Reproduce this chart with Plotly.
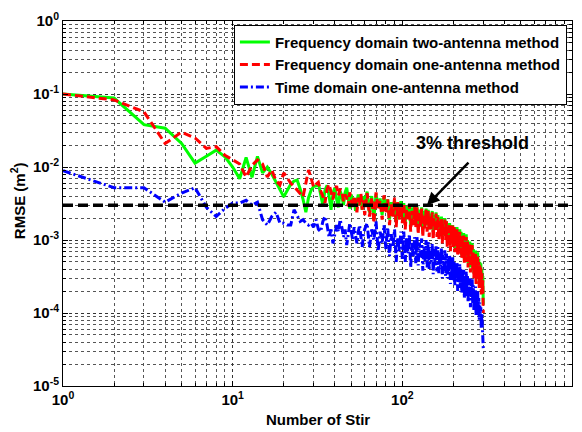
import plotly.graph_objects as go

# Number of stirs: every stir up to 60, then every second stir up to 300
stir = list(range(1, 61)) + list(range(62, 301, 2))

# RMSE (m^2) - frequency domain, two-antenna method
rmse_freq_two = [
    0.100, 0.088, 0.038, 0.034, 0.021, 0.0113, 0.0140, 0.0170, 0.0138, 0.0100,
    0.0069, 0.0135, 0.0072, 0.0140, 0.0083, 0.0100, 0.0080, 0.0062, 0.0048, 0.0039,
    0.0048, 0.0058, 0.0064, 0.0066, 0.0050, 0.0036, 0.0024, 0.0038, 0.0048, 0.0054,
    0.0055, 0.0060, 0.0042, 0.0030, 0.0048, 0.0056, 0.0040, 0.0026, 0.0044, 0.0052,
    0.0036, 0.0028, 0.0047, 0.0040, 0.0030, 0.0045, 0.0052, 0.0038, 0.0027, 0.0042,
    0.0033, 0.0038, 0.0025, 0.0034, 0.0042, 0.0030, 0.0037, 0.0026, 0.0040, 0.0032,
    0.0046, 0.0024, 0.0040, 0.0020, 0.0043, 0.0028, 0.0037, 0.0022, 0.0039, 0.0026,
    0.0036, 0.0019, 0.0033, 0.0023, 0.0035, 0.0018, 0.0031, 0.0021, 0.0034, 0.0020,
    0.0032, 0.0017, 0.0029, 0.0020, 0.0031, 0.0016, 0.0028, 0.0019, 0.0030, 0.0018,
    0.0029, 0.0015, 0.0026, 0.0018, 0.0028, 0.0014, 0.0025, 0.0017, 0.0027, 0.0016,
    0.0026, 0.0014, 0.0023, 0.0016, 0.0025, 0.0013, 0.0022, 0.0015, 0.0024, 0.0014,
    0.0022, 0.0012, 0.0020, 0.0014, 0.0021, 0.0011, 0.0019, 0.0013, 0.0020, 0.0012,
    0.0018, 0.0010, 0.0016, 0.0011, 0.0017, 0.0009, 0.0015, 0.0010, 0.0016, 0.0009,
    0.0015, 0.00078, 0.0014, 0.0009, 0.0015, 0.0007, 0.0013, 0.00085, 0.0014, 0.00075,
    0.0013, 0.00062, 0.00115, 0.00072, 0.00125, 0.00055, 0.00105, 0.00068, 0.0012, 0.0006,
    0.0010, 0.00048, 0.00088, 0.00056, 0.00095, 0.00042, 0.00082, 0.0005, 0.0009, 0.00045,
    0.00075, 0.00035, 0.00066, 0.00042, 0.00072, 0.0003, 0.0006, 0.00038, 0.00068, 0.00033,
    0.00055, 0.00026, 0.0005, 0.0003, 0.00048, 0.00022, 0.0004, 0.00024, 0.00032, 0.00013,
]

# RMSE (m^2) - frequency domain, one-antenna method
rmse_freq_one = [
    0.100, 0.083, 0.057, 0.021, 0.030, 0.025, 0.018, 0.019, 0.0145, 0.0125,
    0.0110, 0.0073, 0.0105, 0.0125, 0.0110, 0.0073, 0.0091, 0.0065, 0.0057, 0.0083,
    0.0070, 0.0060, 0.0054, 0.0048, 0.0043, 0.0039, 0.0060, 0.0091, 0.0070, 0.0053,
    0.0058, 0.0062, 0.0047, 0.0040, 0.0032, 0.0050, 0.0058, 0.0044, 0.0036, 0.0048,
    0.0055, 0.0041, 0.0050, 0.0046, 0.0034, 0.0042, 0.0038, 0.0029, 0.0045, 0.0036,
    0.0027, 0.0040, 0.0033, 0.0024, 0.0038, 0.0030, 0.0043, 0.0026, 0.0035, 0.0022,
    0.0044, 0.0021, 0.0038, 0.0017, 0.0045, 0.0026, 0.0035, 0.0019, 0.0041, 0.0023,
    0.0036, 0.0016, 0.0031, 0.0021, 0.0038, 0.0015, 0.0033, 0.0019, 0.0029, 0.0017,
    0.0032, 0.0014, 0.0027, 0.0018, 0.0031, 0.0013, 0.0025, 0.0016, 0.0030, 0.0015,
    0.0028, 0.0012, 0.0024, 0.0015, 0.0027, 0.0011, 0.0022, 0.0014, 0.0026, 0.0013,
    0.0025, 0.0011, 0.0021, 0.0014, 0.0024, 0.0010, 0.0020, 0.0013, 0.0023, 0.0011,
    0.0021, 0.0010, 0.0018, 0.0012, 0.0020, 0.0009, 0.0017, 0.0011, 0.0019, 0.0010,
    0.0018, 0.0008, 0.0015, 0.0010, 0.0017, 0.0007, 0.0014, 0.0009, 0.0016, 0.0008,
    0.0015, 0.00068, 0.0013, 0.00082, 0.0014, 0.0006, 0.0012, 0.00075, 0.0013, 0.00065,
    0.0012, 0.00055, 0.00105, 0.00065, 0.00115, 0.00048, 0.00095, 0.0006, 0.0011, 0.0005,
    0.00095, 0.00042, 0.00082, 0.0005, 0.0009, 0.00036, 0.00075, 0.00045, 0.00085, 0.0004,
    0.0007, 0.0003, 0.0006, 0.00036, 0.00068, 0.00025, 0.00055, 0.00032, 0.00062, 0.00028,
    0.0005, 0.00022, 0.00045, 0.00026, 0.00042, 0.00018, 0.00035, 0.0002, 0.00028, 0.0001,
]

# RMSE (m^2) - time domain, one-antenna method
rmse_time_one = [
    0.0089, 0.0052, 0.0052, 0.0033, 0.0044, 0.0052, 0.0028, 0.0021, 0.0027, 0.0032,
    0.0032, 0.0035, 0.0030, 0.0033, 0.0019, 0.0016, 0.0021, 0.0024, 0.0017, 0.0017,
    0.0016, 0.0016, 0.0026, 0.0021, 0.0018, 0.0019, 0.0017, 0.0016, 0.0017, 0.0015,
    0.0019, 0.0014, 0.0013, 0.0018, 0.0021, 0.0016, 0.0011, 0.0014, 0.0009, 0.0012,
    0.0016, 0.0013, 0.0019, 0.0015, 0.0011, 0.0014, 0.00085, 0.0012, 0.0017, 0.0013,
    0.0010, 0.0015, 0.0012, 0.0009, 0.0013, 0.0016, 0.0011, 0.0008, 0.0012, 0.0014,
    0.0017, 0.0008, 0.0014, 0.0010, 0.0018, 0.0007, 0.0013, 0.0009, 0.0016, 0.00075,
    0.0015, 0.0006, 0.0012, 0.0008, 0.0014, 0.0005, 0.0011, 0.0007, 0.0013, 0.00055,
    0.0013, 0.0005, 0.0011, 0.00065, 0.0012, 0.00042, 0.00095, 0.0006, 0.0011, 0.00048,
    0.0011, 0.00045, 0.00092, 0.00058, 0.00105, 0.00038, 0.00085, 0.0005, 0.0010, 0.00042,
    0.00095, 0.0004, 0.0008, 0.0005, 0.0009, 0.00034, 0.00075, 0.00045, 0.00085, 0.00037,
    0.0008, 0.00035, 0.00068, 0.00043, 0.00078, 0.0003, 0.00062, 0.0004, 0.00072, 0.00032,
    0.00065, 0.0003, 0.00056, 0.00036, 0.00062, 0.00025, 0.0005, 0.00033, 0.00058, 0.00027,
    0.00052, 0.00024, 0.00045, 0.00029, 0.0005, 0.0002, 0.0004, 0.00026, 0.00047, 0.00022,
    0.0004, 0.00019, 0.00036, 0.00023, 0.00039, 0.00016, 0.00032, 0.0002, 0.00037, 0.00017,
    0.00032, 0.00014, 0.00028, 0.00017, 0.0003, 0.00012, 0.00025, 0.00015, 0.00029, 0.00013,
    0.00024, 0.00011, 0.00021, 0.00013, 0.00023, 0.00009, 0.00019, 0.00012, 0.0002, 0.0001,
    0.00016, 0.00008, 0.00014, 0.00009, 0.00012, 0.00006, 0.0001, 0.00006, 0.00007, 0.000032,
]

# 3 % acceptance level
threshold = 0.003
threshold_span = [1, 1000]

series_names = [
    "Frequency domain two-antenna method",
    "Frequency domain one-antenna method",
    "Time domain one-antenna method",
]

x_tickvals = [1, 10, 100, 1000]
x_ticktext = ["10<sup>0</sup>", "10<sup>1</sup>", "10<sup>2</sup>", "10<sup>3</sup>"]
y_tickvals = [1e-5, 1e-4, 1e-3, 1e-2, 1e-1, 1]
y_ticktext = ["10<sup>-5</sup>", "10<sup>-4</sup>", "10<sup>-3</sup>",
              "10<sup>-2</sup>", "10<sup>-1</sup>", "10<sup>0</sup>"]

# minor grid positions 2..9 inside each decade
x_minor = [m * 10 ** d for d in range(0, 3) for m in range(2, 10)]
y_minor = [m * 10.0 ** d for d in range(-5, 0) for m in range(2, 10)]

FONT = "Liberation Sans, Arial, sans-serif"

fig = go.Figure()

fig.add_trace(go.Scatter(
    x=stir, y=rmse_freq_two, mode="lines", name=series_names[0],
    line=dict(color="#00ff00", width=3),
))
fig.add_trace(go.Scatter(
    x=stir, y=rmse_freq_one, mode="lines", name=series_names[1],
    line=dict(color="#ff0000", width=3, dash="8px,4px"),
))
fig.add_trace(go.Scatter(
    x=stir, y=rmse_time_one, mode="lines", name=series_names[2],
    line=dict(color="#0000ff", width=3, dash="8px,3px,2px,3px"),
))
fig.add_trace(go.Scatter(
    x=threshold_span, y=[threshold, threshold], mode="lines", showlegend=False,
    line=dict(color="black", width=3.5, dash="10px,5px"), hoverinfo="skip",
))

axis_common = dict(
    type="log",
    tickmode="array",
    showline=True, linecolor="black", linewidth=1, mirror="allticks",
    ticks="inside", ticklen=5, tickcolor="black",
    tickfont=dict(family=FONT, size=15, color="black", weight="bold"),
    showgrid=True, gridcolor="#333333", griddash="dot", gridwidth=1,
    zeroline=False,
)

fig.update_xaxes(
    **axis_common, range=[0, 3], tickvals=x_tickvals, ticktext=x_ticktext,
    minor=dict(tickmode="array", tickvals=x_minor, ticks="inside", ticklen=3,
               tickcolor="black", showgrid=True, gridcolor="#555555",
               griddash="dot", gridwidth=1),
)
fig.update_yaxes(
    **axis_common, range=[-5, 0], tickvals=y_tickvals, ticktext=y_ticktext,
    minor=dict(tickmode="array", tickvals=y_minor, ticks="inside", ticklen=3,
               tickcolor="black", showgrid=True, gridcolor="#555555",
               griddash="dot", gridwidth=1),
)

fig.update_layout(
    width=582, height=432,
    margin=dict(l=63, r=10, t=21, b=46),
    paper_bgcolor="white", plot_bgcolor="white",
    font=dict(family=FONT, color="black"),
    showlegend=True,
    legend=dict(
        x=0.99, y=0.99, xanchor="right", yanchor="top",
        bgcolor="white", bordercolor="black", borderwidth=1,
        font=dict(family=FONT, size=15, color="black", weight="bold"),
        tracegroupgap=0, itemwidth=30,
    ),
    annotations=[
        dict(text="Number of Stir", xref="paper", yref="paper", x=0.5, y=-0.093,
             xanchor="center", yanchor="middle", showarrow=False,
             font=dict(family=FONT, size=15, color="black", weight="bold")),
        dict(text="RMSE (m<sup>2</sup>)", xref="paper", yref="paper", x=-0.088, y=0.507,
             xanchor="center", yanchor="middle", textangle=-90, showarrow=False,
             font=dict(family=FONT, size=15, color="black", weight="bold")),
        dict(text="3% threshold", xref="x", yref="y", x=2.416, y=-1.671,
             xanchor="center", yanchor="middle", showarrow=False,
             font=dict(family=FONT, size=18, color="black", weight="bold")),
        dict(text="", xref="x", yref="y", x=2.145, y=-2.523,
             ax=43, ay=-44, showarrow=True, arrowhead=2, arrowsize=1,
             arrowwidth=2.5, arrowcolor="black"),
    ],
)

fig.write_html("out.html")
